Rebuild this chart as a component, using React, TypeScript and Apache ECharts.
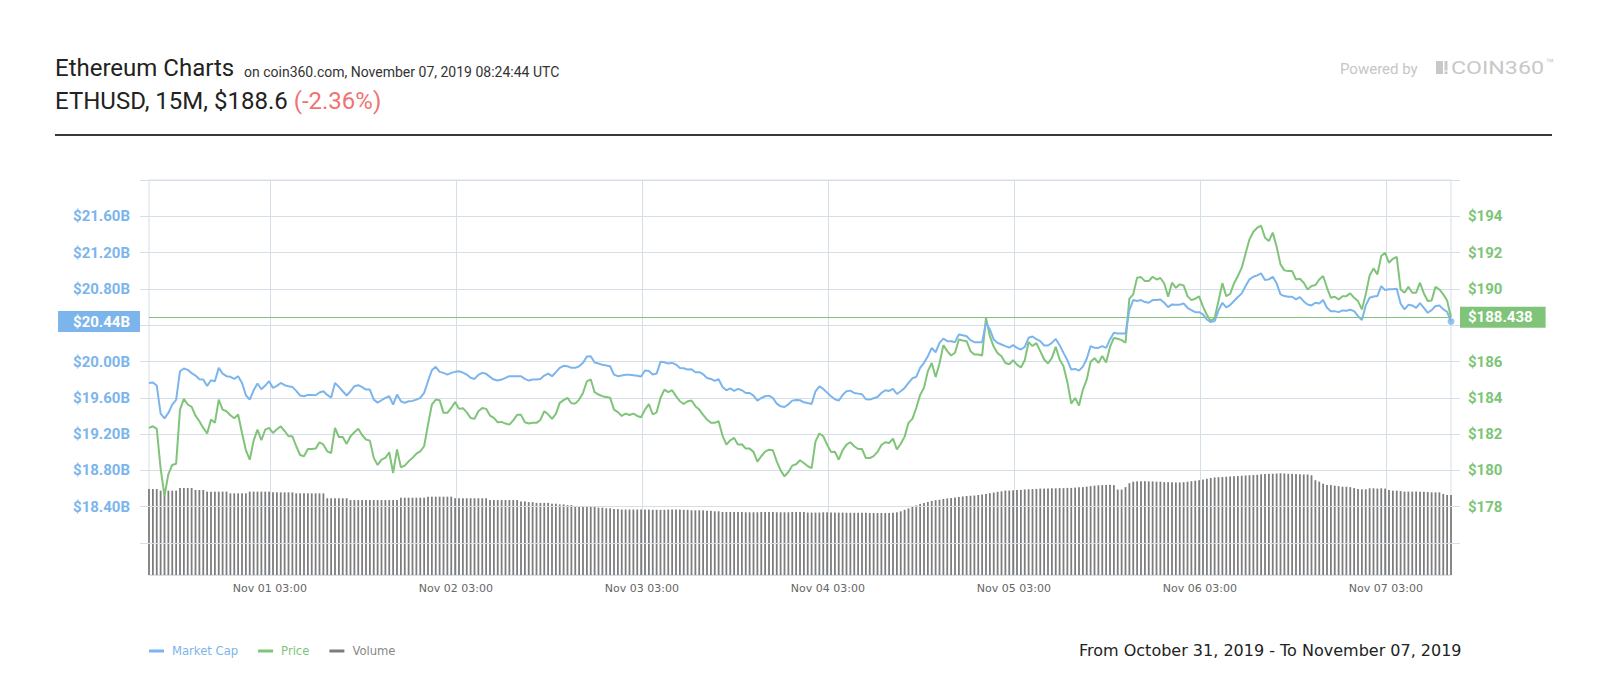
import React, { useEffect, useRef } from "react";
import * as echarts from "echarts";

// ---- time settings (local time as shown on the axis) ----
const START_TIME = "2019-10-31 11:24:44";
const STEP_MIN = 30; // every series sampled every 30 minutes
const X_TICKS = [
  "2019-11-01 03:00",
  "2019-11-02 03:00",
  "2019-11-03 03:00",
  "2019-11-04 03:00",
  "2019-11-05 03:00",
  "2019-11-06 03:00",
  "2019-11-07 03:00",
];
const MONTHS = ["Jan", "Feb", "Mar", "Apr", "May", "Jun", "Jul", "Aug", "Sep", "Oct", "Nov", "Dec"];

// ---- axis ranges ----
const MCAP_MIN = 18.0;
const MCAP_MAX = 22.0;
const MCAP_STEP = 0.4;
const PRICE_MIN = 176;
const PRICE_MAX = 196;
const PRICE_STEP = 2;
const VOL_MAX = 40;

// ---- Price (USD), every 30 min ----
const PRICE = [
  182.34, 182.43, 182.29, 180.1, 178.6, 179.8, 180.3, 180.37, 183.35, 183.94,
  183.63, 183.5, 183.02, 182.71, 182.34, 182.03, 182.8, 182.62, 183.9, 183.35,
  183.26, 183.04, 182.87, 183.08, 182.06, 181.11, 180.59, 181.64, 182.25, 181.66,
  182.25, 182.34, 182.06, 182.27, 182.43, 182.17, 181.88, 181.88, 181.33, 180.85,
  180.78, 181.18, 181.18, 181.2, 181.55, 181.42, 181.05, 180.96, 182.34, 181.84,
  181.84, 181.46, 181.88, 182.1, 182.29, 181.95, 181.7, 181.64, 180.69, 180.3,
  180.59, 180.69, 181.0, 179.86, 181.15, 180.17, 180.26, 180.5, 180.69, 180.92,
  181.05, 181.33, 182.52, 183.63, 183.9, 183.87, 183.17, 183.17, 183.44, 183.77,
  183.39, 183.43, 183.2, 182.89, 182.84, 183.26, 183.44, 183.39, 183.02, 182.89,
  182.65, 182.67, 182.58, 182.52, 182.76, 183.06, 183.06, 182.65, 182.58, 182.63,
  182.62, 182.78, 183.26, 183.09, 182.84, 183.11, 183.72, 183.87, 184.0, 183.7,
  183.68, 183.9, 184.27, 184.91, 185.01, 184.31, 184.18, 184.09, 184.05, 184.01,
  183.35, 183.21, 183.0, 183.13, 183.05, 183.13, 183.0, 182.93, 183.35, 183.65,
  183.08, 183.2, 183.99, 184.45, 184.31, 184.42, 184.09, 183.81, 183.66, 183.81,
  183.85, 183.54, 183.35, 183.06, 182.8, 182.62, 182.62, 182.71, 181.92, 181.42,
  181.66, 181.79, 181.42, 181.44, 181.2, 181.2, 181.02, 180.48, 180.78, 181.03,
  181.14, 181.11, 180.5, 180.0, 179.67, 179.91, 180.26, 180.34, 180.56, 180.41,
  180.23, 180.13, 181.6, 182.03, 181.88, 181.42, 181.02, 181.03, 180.59, 181.11,
  181.42, 181.55, 181.33, 181.18, 181.18, 180.68, 180.68, 180.79, 181.02, 181.4,
  181.55, 181.51, 181.75, 181.16, 181.47, 181.86, 182.62, 182.84, 183.44, 184.16,
  184.55, 185.47, 185.92, 185.14, 185.89, 186.9, 186.57, 186.33, 186.48, 187.21,
  187.16, 187.12, 186.57, 186.39, 186.39, 186.33, 188.4, 187.4, 186.81, 186.46,
  186.29, 185.92, 185.85, 186.07, 185.83, 185.67, 186.07, 187.07, 186.85, 187.01,
  186.57, 186.11, 185.89, 186.2, 186.81, 186.11, 185.74, 184.86, 183.68, 183.99,
  183.57, 184.45, 185.0, 185.99, 186.18, 185.92, 186.3, 185.94, 186.8, 187.3,
  187.25, 187.18, 187.03, 189.46, 189.7, 190.62, 190.65, 190.43, 190.43, 190.67,
  190.52, 190.6, 190.3, 189.57, 190.34, 190.06, 190.25, 190.19, 189.6, 189.38,
  189.46, 189.59, 189.02, 188.56, 188.23, 188.39, 189.33, 190.32, 189.6, 189.72,
  190.3, 190.71, 191.17, 191.96, 192.73, 193.15, 193.37, 193.48, 192.82, 192.64,
  193.1, 192.33, 191.35, 191.02, 190.98, 190.98, 190.52, 190.56, 190.34, 189.97,
  190.16, 190.21, 190.52, 190.71, 190.06, 189.51, 189.57, 189.42, 189.6, 189.6,
  189.75, 189.51, 189.33, 188.87, 189.7, 190.74, 191.13, 190.8, 191.81, 191.99,
  191.44, 191.66, 191.77, 189.97, 189.79, 190.12, 189.79, 189.79, 190.34, 189.75,
  189.33, 189.36, 190.12, 189.97, 189.7, 189.36, 188.438,
];

// ---- Market cap (USD billions), every 30 min ----
const MARKET_CAP = [
  19.764, 19.768, 19.735, 19.426, 19.374, 19.433, 19.525, 19.577, 19.893, 19.923,
  19.908, 19.871, 19.845, 19.805, 19.801, 19.731, 19.794, 19.783, 19.93, 19.867,
  19.838, 19.831, 19.808, 19.838, 19.764, 19.628, 19.58, 19.683, 19.757, 19.694,
  19.735, 19.783, 19.709, 19.731, 19.764, 19.739, 19.728, 19.72, 19.676, 19.625,
  19.617, 19.632, 19.632, 19.628, 19.658, 19.672, 19.632, 19.602, 19.764, 19.72,
  19.672, 19.625, 19.672, 19.728, 19.739, 19.717, 19.691, 19.691, 19.58, 19.547,
  19.573, 19.599, 19.617, 19.525, 19.636, 19.562, 19.544, 19.562, 19.566, 19.58,
  19.599, 19.654, 19.783, 19.904, 19.941, 19.886, 19.875, 19.856, 19.875, 19.886,
  19.893, 19.878, 19.856, 19.82, 19.808, 19.853, 19.875, 19.864, 19.831, 19.801,
  19.79, 19.801, 19.82, 19.838, 19.838, 19.838, 19.838, 19.808, 19.79, 19.801,
  19.801, 19.808, 19.845, 19.867, 19.838, 19.882, 19.93, 19.952, 19.948, 19.93,
  19.93, 19.948, 19.985, 20.055, 20.059, 19.989, 19.978, 19.963, 19.956, 19.948,
  19.856, 19.838, 19.845, 19.853, 19.853, 19.849, 19.842, 19.834, 19.9, 19.896,
  19.856, 19.867, 19.996, 19.992, 19.977, 19.985, 19.966, 19.929, 19.926, 19.911,
  19.915, 19.882, 19.882, 19.86, 19.819, 19.808, 19.786, 19.804, 19.72, 19.683,
  19.705, 19.676, 19.698, 19.683, 19.653, 19.653, 19.624, 19.569, 19.598, 19.617,
  19.624, 19.598, 19.536, 19.506, 19.499, 19.528, 19.569, 19.576, 19.573, 19.55,
  19.543, 19.532, 19.672, 19.727, 19.698, 19.657, 19.617, 19.584, 19.569, 19.631,
  19.672, 19.679, 19.653, 19.646, 19.639, 19.584, 19.58, 19.595, 19.609, 19.653,
  19.683, 19.676, 19.698, 19.642, 19.672, 19.709, 19.764, 19.815, 19.83, 19.929,
  19.985, 20.058, 20.15, 20.102, 20.205, 20.253, 20.224, 20.224, 20.213, 20.297,
  20.29, 20.279, 20.235, 20.213, 20.213, 20.213, 20.426, 20.353, 20.242, 20.205,
  20.187, 20.169, 20.154, 20.18, 20.15, 20.132, 20.161, 20.261, 20.275, 20.246,
  20.224, 20.176, 20.176, 20.205, 20.249, 20.18, 20.095, 20.014, 19.911, 19.918,
  19.9, 19.944, 20.03, 20.169, 20.151, 20.15, 20.169, 20.15, 20.243, 20.316,
  20.309, 20.309, 20.309, 20.566, 20.677, 20.666, 20.677, 20.655, 20.647, 20.677,
  20.677, 20.684, 20.647, 20.6, 20.629, 20.625, 20.625, 20.64, 20.592, 20.566,
  20.544, 20.544, 20.519, 20.463, 20.434, 20.445, 20.563, 20.647, 20.596, 20.622,
  20.666, 20.71, 20.751, 20.831, 20.905, 20.934, 20.949, 20.971, 20.898, 20.905,
  20.934, 20.861, 20.739, 20.721, 20.714, 20.714, 20.684, 20.71, 20.662, 20.629,
  20.618, 20.647, 20.64, 20.677, 20.592, 20.555, 20.555, 20.544, 20.563, 20.559,
  20.57, 20.555, 20.5, 20.456, 20.618, 20.703, 20.717, 20.721, 20.831, 20.787,
  20.795, 20.795, 20.802, 20.636, 20.574, 20.625, 20.618, 20.592, 20.644, 20.592,
  20.537, 20.566, 20.611, 20.618, 20.574, 20.548, 20.44,
];

// ---- 24h volume (USD billions), every 30 min ----
const VOLUME = [
  8.71, 8.71, 8.71, 8.54, 8.54, 8.54, 8.54, 8.54, 8.81, 8.81,
  8.81, 8.81, 8.61, 8.61, 8.61, 8.44, 8.44, 8.44, 8.44, 8.44,
  8.44, 8.27, 8.27, 8.27, 8.27, 8.27, 8.44, 8.44, 8.44, 8.44,
  8.44, 8.44, 8.37, 8.37, 8.37, 8.37, 8.37, 8.37, 8.27, 8.27,
  8.27, 8.27, 8.27, 8.27, 8.27, 8.27, 7.77, 7.77, 7.77, 7.77,
  7.77, 7.77, 7.59, 7.59, 7.59, 7.59, 7.59, 7.59, 7.59, 7.59,
  7.59, 7.59, 7.59, 7.59, 7.59, 7.83, 7.83, 7.83, 7.83, 7.83,
  7.83, 7.83, 7.93, 7.93, 7.93, 7.93, 7.93, 7.93, 7.93, 7.77,
  7.77, 7.77, 7.77, 7.77, 7.77, 7.77, 7.77, 7.77, 7.59, 7.59,
  7.59, 7.59, 7.59, 7.59, 7.59, 7.59, 7.45, 7.45, 7.38, 7.38,
  7.3, 7.3, 7.3, 7.3, 7.22, 7.22, 7.15, 7.15, 7.08, 7.08,
  6.95, 6.95, 6.89, 6.89, 6.89, 6.89, 6.82, 6.82, 6.75, 6.75,
  6.68, 6.68, 6.63, 6.63, 6.63, 6.63, 6.63, 6.63, 6.63, 6.63,
  6.6, 6.6, 6.6, 6.6, 6.63, 6.63, 6.63, 6.63, 6.6, 6.6,
  6.55, 6.55, 6.55, 6.55, 6.5, 6.5, 6.45, 6.45, 6.38, 6.38,
  6.38, 6.38, 6.38, 6.38, 6.35, 6.35, 6.35, 6.35, 6.38, 6.38,
  6.38, 6.38, 6.35, 6.35, 6.35, 6.35, 6.38, 6.38, 6.38, 6.38,
  6.32, 6.32, 6.32, 6.32, 6.35, 6.35, 6.32, 6.32, 6.32, 6.32,
  6.3, 6.3, 6.3, 6.3, 6.3, 6.3, 6.28, 6.28, 6.28, 6.28,
  6.28, 6.28, 6.3, 6.35, 6.45, 6.6, 6.75, 6.9, 7.05, 7.2,
  7.3, 7.4, 7.5, 7.58, 7.62, 7.7, 7.75, 7.8, 7.85, 7.9,
  7.95, 8.0, 8.03, 8.05, 8.1, 8.15, 8.2, 8.28, 8.35, 8.42,
  8.48, 8.55, 8.55, 8.58, 8.6, 8.62, 8.65, 8.68, 8.7, 8.72,
  8.75, 8.75, 8.75, 8.78, 8.78, 8.8, 8.8, 8.82, 8.82, 8.85,
  8.88, 8.9, 8.95, 9.0, 9.05, 9.08, 9.1, 9.12, 9.15, 9.1,
  8.65, 8.65, 8.9, 9.3, 9.45, 9.48, 9.5, 9.5, 9.48, 9.48,
  9.45, 9.45, 9.4, 9.4, 9.38, 9.37, 9.37, 9.4, 9.45, 9.5,
  9.55, 9.6, 9.68, 9.75, 9.82, 9.88, 9.9, 9.92, 9.95, 9.98,
  10.0, 10.02, 10.05, 10.08, 10.1, 10.12, 10.15, 10.2, 10.22, 10.25,
  10.25, 10.28, 10.3, 10.28, 10.25, 10.25, 10.22, 10.2, 10.18, 10.18,
  10.1, 9.6, 9.45, 9.25, 9.11, 9.11, 9.05, 9.0, 8.94, 8.94,
  8.9, 8.8, 8.7, 8.68, 8.68, 8.78, 8.78, 8.75, 8.78, 8.75,
  8.6, 8.54, 8.54, 8.5, 8.44, 8.44, 8.44, 8.45, 8.44, 8.42,
  8.4, 8.37, 8.37, 8.37, 8.2, 8.1, 8.1,
];

// ---- colours ----
const BLUE = "#7cb5ec";
const GREEN = "#80c47a";
const GREEN_LABEL = "#7cc576";
const GRAY = "#7d7d7d";
const GRID_C = "#d6dfe8";
const LOGO_C = "#c8c8c8";

function toTime(s: string): number {
  const [d, t] = s.split(" ");
  const [y, m, dd] = d.split("-").map(Number);
  const [h, mi, se] = t.split(":").map(Number);
  return new Date(y, m - 1, dd, h, mi, se || 0).getTime();
}
const pad = (n: number) => (n < 10 ? "0" + n : "" + n);
function fmtTime(v: number): string {
  const d = new Date(v);
  return `${MONTHS[d.getMonth()]} ${pad(d.getDate())} ${pad(d.getHours())}:${pad(d.getMinutes())}`;
}
const near = (a: number, b: number) => Math.abs(a - b) < 1e-6;

function txt(x: number, y: number, text: string, fontSize: number, fill: string, fontFamily = "Roboto", extra: any = {}) {
  return {
    type: "text",
    x,
    y,
    ...extra,
    style: { text, fontSize, fontFamily, fill, verticalAlign: "middle", textVerticalAlign: "middle" },
  };
}

export default function App() {
  const ref = useRef<HTMLDivElement>(null);

  useEffect(() => {
    if (!ref.current) return;
    const chart = echarts.init(ref.current, undefined, { renderer: "svg" });

    const t0 = toTime(START_TIME);
    const step = STEP_MIN * 60000;
    const tMax = t0 + (PRICE.length - 1) * step;
    const priceData = PRICE.map((v, i) => [t0 + i * step, v]);
    const mcapData = MARKET_CAP.map((v, i) => [t0 + i * step, v]);
    const volData = VOLUME.map((v, j) => [t0 + j * step, v]);
    const tickTimes = X_TICKS.map(toTime);
    const lastPrice = PRICE[PRICE.length - 1];
    const lastMcap = MARKET_CAP[MARKET_CAP.length - 1];

    const option: any = {
      animation: false,
      backgroundColor: "#ffffff",
      textStyle: { fontFamily: "Roboto" },
      graphic: [
        txt(55, 67.5, "Ethereum Charts", 24, "#222222"),
        txt(244, 72, "on coin360.com, November 07, 2019 08:24:44 UTC", 14, "#333333"),
        {
          type: "text",
          x: 55,
          y: 100.5,
          style: {
            text: "{a|ETHUSD, 15M, $188.6} {r|(-2.36%)}",
            fontSize: 24,
            fontFamily: "Roboto",
            fill: "#222222",
            verticalAlign: "middle",
            textVerticalAlign: "middle",
            rich: {
              a: { fontSize: 24, fontFamily: "Roboto", fill: "#222222", color: "#222222" },
              r: { fontSize: 24, fontFamily: "Roboto", fill: "#f07373", color: "#f07373" },
            },
          },
        },
        {
          type: "line",
          shape: { x1: 55, y1: 135, x2: 1552, y2: 135 },
          style: { stroke: "#3a3a3a", lineWidth: 2 },
        },
        txt(1340, 69, "Powered by", 15, "#c6c6c6"),
        { type: "rect", shape: { x: 1436, y: 61, width: 7, height: 13 }, style: { fill: LOGO_C } },
        { type: "rect", shape: { x: 1444.5, y: 61, width: 3, height: 9.5 }, style: { fill: LOGO_C } },
        { type: "rect", shape: { x: 1444.5, y: 71.5, width: 3, height: 2.5 }, style: { fill: LOGO_C } },
        txt(1451, 67.5, "COIN360", 19, LOGO_C, "Roboto", { scaleX: 1.22 }),
        txt(1546, 63.5, "\u2122", 13, LOGO_C),
        txt(1079, 650, "From October 31, 2019 - To November 07, 2019", 16, "#222222", "DejaVu Sans"),
      ],
      legend: {
        left: 144,
        top: 640,
        icon: "rect",
        itemWidth: 15,
        itemHeight: 3,
        itemGap: 20,
        textStyle: { fontFamily: "DejaVu Sans", fontSize: 11.6, padding: [0, 0, 0, 3] },
        data: [
          { name: "Market Cap", textStyle: { color: BLUE } },
          { name: "Price", textStyle: { color: GREEN } },
          { name: "Volume", textStyle: { color: "#888888" } },
        ],
      },
      grid: [
        { left: 149, right: 149, top: 180, height: 395, show: true, borderColor: GRID_C, borderWidth: 1, backgroundColor: "transparent" },
        { left: 149, right: 149, top: 180, height: 363 },
      ],
      xAxis: [
        {
          type: "value",
          gridIndex: 0,
          min: t0,
          max: tMax,
          z: 2,
          axisLine: { show: true, lineStyle: { color: GRID_C } },
          axisTick: { show: false, customValues: tickTimes },
          splitLine: { show: true, lineStyle: { color: GRID_C, width: 1 } },
          axisLabel: {
            customValues: tickTimes,
            formatter: (v: number) => fmtTime(v),
            color: "#666666",
            fontSize: 11,
            fontFamily: "DejaVu Sans",
            margin: 8,
          },
        },
        { type: "value", gridIndex: 1, min: t0, max: tMax, show: false, splitLine: { show: false } },
      ],
      yAxis: [
        { type: "value", gridIndex: 0, min: 0, max: VOL_MAX, show: false, splitLine: { show: false } },
        {
          type: "value",
          gridIndex: 1,
          position: "left",
          min: MCAP_MIN,
          max: MCAP_MAX,
          interval: MCAP_STEP,
          z: 2,
          axisLine: { show: false },
          axisTick: { show: true, length: 9, lineStyle: { color: GRID_C } },
          splitLine: { show: true, lineStyle: { color: GRID_C, width: 1 } },
          axisLabel: {
            formatter: (v: number) =>
              near(v, MCAP_MIN) || near(v, MCAP_MAX) || near(v, 20.4) ? "" : "$" + v.toFixed(2) + "B",
            color: BLUE,
            fontSize: 15,
            fontWeight: "bold",
            fontFamily: "Roboto",
            margin: 19,
          },
        },
        {
          type: "value",
          gridIndex: 1,
          position: "right",
          min: PRICE_MIN,
          max: PRICE_MAX,
          interval: PRICE_STEP,
          z: 2,
          axisLine: { show: false },
          axisTick: { show: true, length: 9, lineStyle: { color: GRID_C } },
          splitLine: { show: false },
          axisLabel: {
            formatter: (v: number) =>
              near(v, PRICE_MIN) || near(v, PRICE_MAX) || near(v, 188) ? "" : "$" + Math.round(v),
            color: GREEN_LABEL,
            fontSize: 15,
            fontWeight: "bold",
            fontFamily: "Roboto",
            margin: 17,
          },
        },
      ],
      series: [
        {
          name: "Volume",
          type: "bar",
          xAxisIndex: 0,
          yAxisIndex: 0,
          data: volData,
          barWidth: 1.8,
          itemStyle: { color: GRAY },
          z: 1,
          silent: true,
        },
        {
          name: "Price",
          type: "line",
          xAxisIndex: 1,
          yAxisIndex: 2,
          data: priceData,
          showSymbol: false,
          symbol: "none",
          lineStyle: { width: 2, color: GREEN },
          itemStyle: { color: GREEN },
          z: 3,
          markLine: {
            silent: true,
            symbol: ["none", "none"],
            lineStyle: { color: GREEN, width: 1, type: "solid" },
            label: {
              show: true,
              position: "end",
              distance: 9,
              formatter: "$" + lastPrice.toFixed(3),
              backgroundColor: GREEN,
              color: "#ffffff",
              fontFamily: "Roboto",
              fontSize: 15,
              fontWeight: "bold",
              padding: [3, 13, 3, 8],
            },
            data: [{ yAxis: lastPrice }],
          },
        },
        {
          name: "Market Cap",
          type: "line",
          xAxisIndex: 1,
          yAxisIndex: 1,
          data: mcapData,
          showSymbol: false,
          symbol: "none",
          lineStyle: { width: 2, color: BLUE },
          itemStyle: { color: BLUE },
          z: 4,
          markLine: {
            silent: true,
            symbol: ["none", "none"],
            lineStyle: { color: "rgba(0,0,0,0)", width: 1, type: "solid" },
            label: {
              show: true,
              position: "start",
              distance: 9,
              formatter: "$" + lastMcap.toFixed(2) + "B",
              backgroundColor: BLUE,
              color: "#ffffff",
              fontFamily: "Roboto",
              fontSize: 15,
              fontWeight: "bold",
              padding: [3, 10, 3, 15],
            },
            data: [{ yAxis: lastMcap }],
          },
        },
        {
          name: "Last",
          type: "scatter",
          xAxisIndex: 1,
          yAxisIndex: 1,
          data: [[tMax, lastMcap]],
          symbolSize: 7,
          itemStyle: { color: BLUE },
          z: 5,
          silent: true,
        },
      ],
    };

    chart.setOption(option);
    return () => chart.dispose();
  }, []);

  return (
    <div
      ref={ref}
      style={{ position: "fixed", left: 0, top: 0, width: 1600, height: 700, background: "#ffffff" }}
    />
  );
}
